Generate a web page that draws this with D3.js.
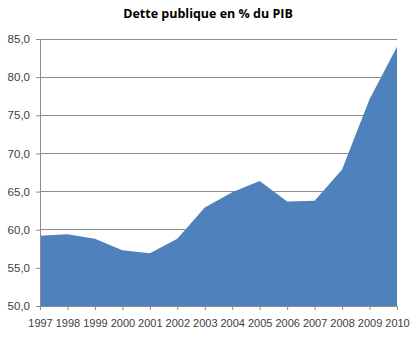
<!DOCTYPE html>
<html>
<head>
<meta charset="utf-8">
<script src="https://cdn.jsdelivr.net/npm/d3@7"></script>
<style>
  body { margin: 0; background: #fff; }
  svg { display: block; }
</style>
</head>
<body>
<div id="chart"></div>
<script>
// Chart data
const years = ["1997","1998","1999","2000","2001","2002","2003","2004","2005","2006","2007","2008","2009","2010"];
const dette = [59.2, 59.4, 58.8, 57.3, 56.9, 58.8, 62.9, 64.9, 66.4, 63.7, 63.8, 67.9, 77.1, 84.0];
const yTicks = [50, 55, 60, 65, 70, 75, 80, 85];
const titre = "Dette publique en % du PIB";

const W = 414, H = 339;
const margin = { top: 39, right: 17, bottom: 33, left: 40 };
const width = W - margin.left - margin.right,
      height = H - margin.top - margin.bottom;

const svg = d3.select("#chart").append("svg")
  .attr("width", W).attr("height", H);

const g = svg.append("g")
  .attr("transform", "translate(" + margin.left + "," + margin.top + ")");

// Scales
const x = d3.scalePoint().domain(years).range([0, width]);
const y = d3.scaleLinear().domain([50, 85]).range([height, 0]);

const fmt = v => d3.format(".1f")(v).replace(".", ",");

// Grid lines
g.append("g")
  .selectAll("line")
  .data(yTicks.filter(t => t > 50))
  .enter().append("line")
  .attr("x1", 0).attr("x2", width)
  .attr("y1", d => y(d)).attr("y2", d => y(d))
  .attr("stroke", "#8c8c8c").attr("stroke-width", 1)
  .attr("shape-rendering", "crispEdges");

// Area
const area = d3.area()
  .x((d, i) => x(years[i]))
  .y0(y(50))
  .y1(d => y(d));

g.append("path")
  .datum(dette)
  .attr("d", area)
  .attr("fill", "#4f81bd");

// Y axis
const yAxis = g.append("g")
  .call(d3.axisLeft(y).tickValues(yTicks).tickFormat(fmt).tickSize(4).tickPadding(6));
yAxis.select(".domain").attr("stroke", "#8c8c8c");
yAxis.selectAll(".tick line").attr("stroke", "#8c8c8c");
yAxis.selectAll("text")
  .style("font-family", "'Liberation Sans', Arial, sans-serif")
  .style("font-size", "11.5px")
  .attr("fill", "#404040");

// X axis
const xAxis = g.append("g")
  .attr("transform", "translate(0," + height + ")")
  .call(d3.axisBottom(x).tickSize(4).tickPadding(9));
xAxis.select(".domain").attr("stroke", "#8c8c8c");
xAxis.selectAll(".tick line").attr("stroke", "#8c8c8c");
xAxis.selectAll("text")
  .style("font-family", "'Liberation Sans', Arial, sans-serif")
  .style("font-size", "11px")
  .attr("fill", "#404040");

// Title
svg.append("text")
  .attr("x", 208)
  .attr("y", 18)
  .attr("text-anchor", "middle")
  .style("font-family", "'Open Sans', sans-serif")
  .style("font-size", "12.5px")
  .style("font-weight", "bold")
  .attr("fill", "#000")
  .text(titre);
</script>
</body>
</html>
